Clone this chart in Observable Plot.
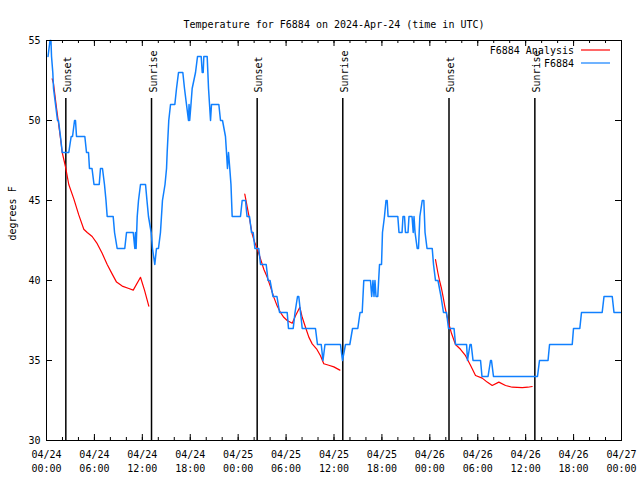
<!DOCTYPE html>
<html><head><meta charset="utf-8">
<script src="https://cdn.jsdelivr.net/npm/d3@7"></script>
<script src="https://cdn.jsdelivr.net/npm/@observablehq/plot@0.6"></script>
<style>body{margin:0;background:#fff}</style>
</head><body><div id="chart"></div>
<script>
const titleText = "Temperature for F6884 on 2024-Apr-24 (time in UTC)";
const yLabel = "degrees F";
const startMs = Date.UTC(2024, 3, 24);
const endHours = 72;
const yTicks = [30, 35, 40, 45, 50, 55];

// Observed F6884 (hours since 04/24 00:00 UTC, deg F)
const obsHours = [0.19,0.44,0.56,0.63,0.79,0.88,1.13,1.38,1.50,1.75,1.97,2.79,3.09,3.26,3.51,3.63,3.76,4.80,5.01,5.26,5.38,5.70,5.95,6.60,6.76,7.01,7.26,7.45,7.60,8.35,8.52,8.85,9.80,10.02,10.86,11.06,11.14,11.22,11.36,11.52,11.77,12.40,12.58,12.77,13.11,13.27,13.56,13.77,14.02,14.27,14.52,14.84,15.03,15.11,15.31,15.53,16.07,16.28,16.53,17.07,17.28,17.53,17.78,17.85,17.93,18.09,18.24,18.66,18.91,19.37,19.50,19.62,19.70,20.12,20.29,20.54,20.66,21.58,21.79,22.04,22.41,22.54,22.66,22.79,22.95,23.10,23.25,24.29,24.50,24.92,25.11,25.42,25.67,25.88,26.10,26.58,26.80,27.51,27.74,27.99,28.36,28.86,29.18,30.14,30.30,30.89,31.12,31.43,31.59,31.81,32.02,33.68,33.93,34.40,34.62,34.87,36.81,37.06,37.44,37.98,38.32,38.98,39.26,39.53,39.73,40.57,40.72,40.88,41.01,41.13,41.26,41.48,41.70,41.95,42.07,42.32,42.51,42.66,42.77,43.99,44.14,44.52,44.64,44.83,44.95,45.27,45.39,45.77,45.92,46.02,46.15,46.42,46.58,46.75,47.05,47.25,47.40,47.65,48.30,48.46,48.71,49.02,49.40,49.71,50.09,50.34,51.03,51.22,52.60,52.72,53.03,53.18,53.41,54.35,54.53,55.29,55.60,55.72,55.97,61.48,61.73,62.80,62.99,65.83,65.99,66.78,66.99,69.58,69.81,70.84,71.06,71.88];
const obsTemps = [54,55,55,54,53,52,51,50,50,49,48,48,49,49,50,50,49,49,48,48,47,47,46,46,47,47,46,45,44,44,43,42,42,43,43,42,43,42,44,45,46,46,45,44,43,42,41,42,42,43,45,46,47,48,50,51,51,52,53,53,52,51,50,51,50,51,52,53,54,54,53,53,54,54,52,50,51,51,50,50,49,48,47,48,47,46,44,44,45,45,44,44,43,43,42,42,41,41,40,40,39,39,38,38,37,37,38,39,39,38,37,37,36,36,35,36,36,35,36,36,37,37,38,38,40,40,39,40,39,40,39,39,41,41,43,44,45,45,44,44,43,43,44,44,43,43,44,44,43,44,43,42,42,44,45,45,43,42,42,41,40,40,39,38,38,37,37,36,36,35,36,36,35,35,34,34,35,35,34,34,35,35,36,36,37,37,38,38,39,39,38,38];

// F6884 Analysis, three separate runs
const ana1Hours = [0.71,0.88,1.25,1.75,1.97,2.38,2.79,3.42,4.04,4.67,5.10,5.72,6.35,6.97,7.60,8.23,8.77,9.48,10.31,10.86,11.77,12.27,12.81];
const ana1Temps = [52.6,52.3,50.8,48.9,48.0,47.1,46.0,45.1,44.1,43.2,43.0,42.75,42.3,41.7,41.0,40.4,39.9,39.65,39.5,39.4,40.2,39.4,38.4];
const ana2Hours = [24.83,25.13,25.46,25.76,26.05,26.38,26.80,27.21,27.64,28.05,28.46,28.89,29.30,29.71,30.14,30.77,31.18,31.72,32.02,32.43,32.85,33.27,33.81,34.31,34.72,35.35,35.98,36.73];
const ana2Temps = [45.4,44.6,43.75,42.9,42.4,42.0,41.35,40.7,40.2,39.6,38.96,38.4,38.0,37.7,37.5,37.33,37.8,38.33,37.7,37.08,36.46,36.04,35.73,35.3,34.8,34.7,34.6,34.4];
const ana3Hours = [48.71,49.00,49.21,49.46,49.67,49.87,50.09,50.38,50.71,51.21,51.84,52.47,53.09,53.72,54.56,55.18,55.81,56.64,57.48,58.31,59.57,60.27,60.82];
const ana3Temps = [41.3,40.5,40.0,39.5,38.96,38.4,37.9,37.3,36.7,36.0,35.7,35.3,34.7,34.06,33.9,33.65,33.44,33.65,33.44,33.33,33.31,33.33,33.375];

// Sun events
const sunHours = [2.42, 13.15, 26.38, 37.1, 50.4, 61.15];
const sunLabels = ["Sunset", "Sunrise", "Sunset", "Sunrise", "Sunset", "Sunrise"];

const legendLabels = ["F6884 Analysis", "F6884"];
const obsColor = "#1080ff";
const anaColor = "#ff0000";

const toDate = h => new Date(startMs + h * 3600e3);
const obs = obsHours.map((h, i) => ({time: toDate(h), temp: obsTemps[i]}));
const ana = [[ana1Hours, ana1Temps], [ana2Hours, ana2Temps], [ana3Hours, ana3Temps]]
  .flatMap(([hs, ts], s) => hs.map((h, i) => ({time: toDate(h), temp: ts[i], seg: s})));
const sun = sunHours.map((h, i) => ({time: toDate(h), label: sunLabels[i]}));

const t0 = toDate(0), t1 = toDate(endHours);
const majorTicks = d3.utcHour.every(6).range(t0, toDate(endHours + 0.01));
const minorTicks = d3.utcHour.every(2).range(t0, toDate(endHours + 0.01));

const W = 640, H = 480, mL = 46, mR = 19, mT = 40, mB = 40;
const fw = W - mL - mR, fh = H - mT - mB;
const major = 6, minor = 3;
const tk = {stroke: "black", strokeWidth: 1};

const plot = Plot.plot({
  width: W, height: H,
  marginLeft: mL, marginRight: mR, marginTop: mT, marginBottom: mB,
  style: {fontFamily: "DejaVu Sans Mono", fontSize: "10px", background: "white", color: "black", overflow: "visible"},
  x: {type: "utc", domain: [t0, t1], label: null},
  y: {domain: [30, 55], label: null},
  marks: [
    Plot.ruleX(sun, {x: "time", insetTop: 58, stroke: "black", strokeWidth: 1.5}),
    Plot.text(sun, {x: "time", text: "label", frameAnchor: "top", dy: 52, dx: -2, rotate: -90, textAnchor: "start", fill: "black"}),
    Plot.line(ana, {x: "time", y: "temp", z: "seg", stroke: anaColor, strokeWidth: 1.2}),
    Plot.line(obs, {x: "time", y: "temp", stroke: obsColor, strokeWidth: 1.5}),
    Plot.frame({stroke: "black", strokeWidth: 1}),
    // inward ticks
    Plot.ruleX(majorTicks, {x: d => d, insetTop: fh - major, ...tk}),
    Plot.ruleX(majorTicks, {x: d => d, insetBottom: fh - major, ...tk}),
    Plot.ruleX(minorTicks, {x: d => d, insetTop: fh - minor, ...tk}),
    Plot.ruleX(minorTicks, {x: d => d, insetBottom: fh - minor, ...tk}),
    Plot.ruleY(yTicks, {y: d => d, insetRight: fw - major, ...tk}),
    Plot.ruleY(yTicks, {y: d => d, insetLeft: fw - major, ...tk}),
    Plot.axisX({ticks: majorTicks, tickFormat: d3.utcFormat("%m/%d\n%H:%M"), tickSize: 0, tickPadding: 8, lineHeight: 1.4, label: null}),
    Plot.axisY({ticks: yTicks, tickSize: 0, tickPadding: 6, label: null}),
    Plot.text([yLabel], {frameAnchor: "left", dx: -34, rotate: -90, fill: "black"}),
    Plot.text([titleText], {frameAnchor: "top", dy: -20, fill: "black"})
  ]
});

// legend
const svg = d3.select(plot);
const lg = svg.append("g").attr("font-family", "DejaVu Sans Mono").attr("font-size", 10);
const legendColors = [anaColor, obsColor];
legendLabels.forEach((lab, i) => {
  const y = 50 + i * 13;
  lg.append("text").attr("x", 574).attr("y", y).attr("dy", "0.35em").attr("text-anchor", "end").attr("fill", "black").text(lab);
  lg.append("line").attr("x1", 581).attr("x2", 610).attr("y1", y).attr("y2", y).attr("stroke", legendColors[i]).attr("stroke-width", 1.2);
});

document.getElementById("chart").appendChild(plot);
</script>
</body></html>
